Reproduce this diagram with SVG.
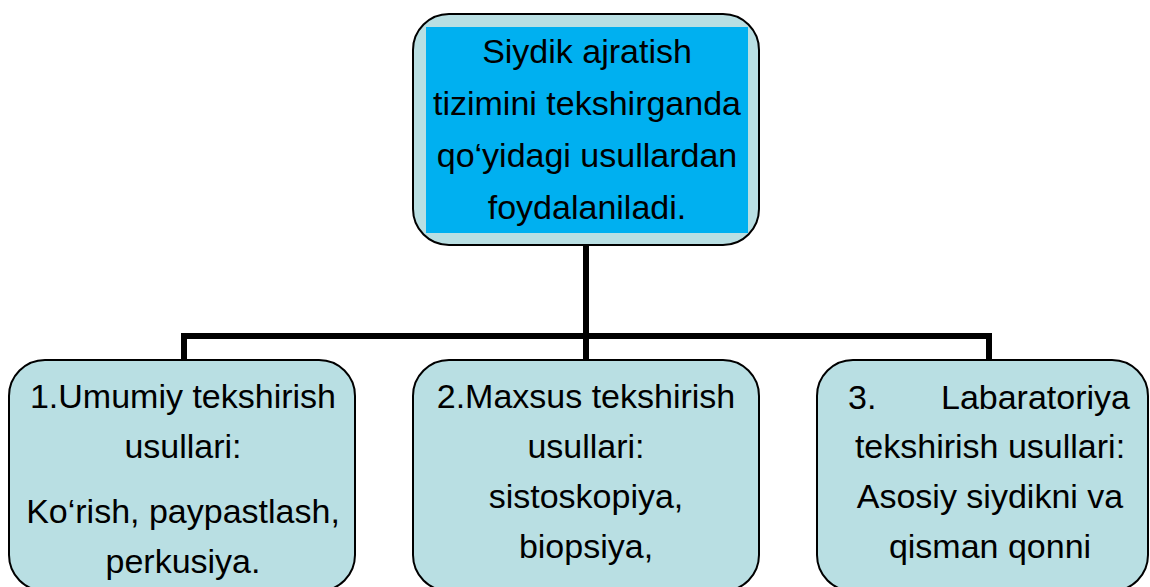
<svg xmlns="http://www.w3.org/2000/svg" width="1150" height="587" viewBox="0 0 1150 587">
<style>
.box{fill:#B9DFE3;stroke:#000;stroke-width:2}
.inner{fill:#00B0F0}
.t{font-family:"Liberation Sans",Arial,sans-serif;font-size:34px;fill:#000;text-anchor:middle}
.conn{fill:none;stroke:#000;stroke-width:6;stroke-linecap:butt;stroke-linejoin:miter}
</style>
<rect width="1150" height="587" fill="#fff"/>
<g id="connectors">
<path class="conn" d="M586 245 V336"/>
<path class="conn" d="M184 360 V336 H989 V360"/>
<path class="conn" d="M586 336 V360"/>
</g>
<g id="root">
<rect class="box" x="413" y="14" width="346" height="231" rx="36"/>
<rect class="inner" x="426" y="27" width="322" height="206"/>
<text class="t" x="587" y="63">Siydik ajratish</text>
<text class="t" x="587" y="115">tizimini tekshirganda</text>
<text class="t" x="587" y="167">qo‘yidagi usullardan</text>
<text class="t" x="587" y="219">foydalaniladi.</text>
</g>
<g id="node1">
<rect class="box" x="9" y="360" width="346" height="231" rx="36"/>
<text class="t" x="183" y="408">1.Umumiy tekshirish</text>
<text class="t" x="183" y="458">usullari:</text>
<text class="t" x="183" y="523">Ko‘rish, paypastlash,</text>
<text class="t" x="183" y="573">perkusiya.</text>
</g>
<g id="node2">
<rect class="box" x="413" y="360" width="346" height="231" rx="36"/>
<text class="t" x="586" y="408">2.Maxsus tekshirish</text>
<text class="t" x="586" y="458">usullari:</text>
<text class="t" x="586" y="508">sistoskopiya,</text>
<text class="t" x="586" y="558">biopsiya,</text>
</g>
<g id="node3">
<rect class="box" x="817" y="360" width="331" height="231" rx="36"/>
<text class="t" x="848" y="409" style="text-anchor:start">3.</text>
<text class="t" x="1130" y="409" style="text-anchor:end">Labaratoriya</text>
<text class="t" x="990" y="458">tekshirish usullari:</text>
<text class="t" x="990" y="508">Asosiy siydikni va</text>
<text class="t" x="990" y="558">qisman qonni</text>
</g>
</svg>
